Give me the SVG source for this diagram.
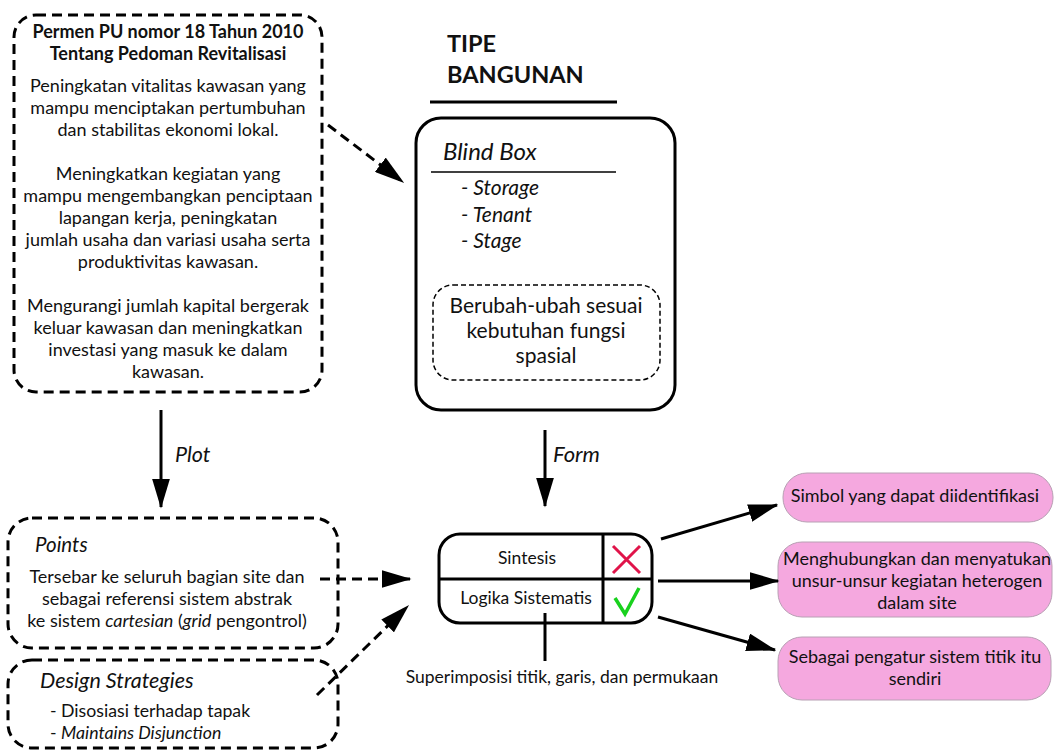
<svg xmlns="http://www.w3.org/2000/svg" width="1056" height="751" viewBox="0 0 1056 751">
<defs>
<style>
text{font-family:Lato,"Open Sans","Liberation Sans",sans-serif;fill:#111;}
.c{text-anchor:middle;}
.b{font-weight:bold;}
.i{font-style:italic;}
.body{font-size:18px;}
.dash{fill:none;stroke:#000;stroke-width:3;stroke-dasharray:10 6;}
.thin{fill:none;stroke:#000;stroke-width:1.5;stroke-dasharray:5 3;}
.solid{fill:none;stroke:#000;stroke-width:3;}
.conn{stroke:#000;stroke-width:3;fill:none;}
.pink{fill:#f5a8df;stroke:#b8a0b4;stroke-width:1;}
</style>
<marker id="ah" markerWidth="10" markerHeight="6" refX="9.5" refY="3" orient="auto" markerUnits="strokeWidth">
<path d="M0,0 L10,3 L0,6 Z" fill="#000"/>
</marker>
</defs>

<g id="regulation">
<rect class="dash" x="14" y="15" width="308" height="377" rx="22"/>
<text class="c b" x="168" y="38" font-size="18">Permen PU nomor 18 Tahun 2010</text>
<text class="c b" x="168" y="60" font-size="18">Tentang Pedoman Revitalisasi</text>
<text class="c body" x="168" y="92">Peningkatan vitalitas kawasan yang</text>
<text class="c body" x="168" y="114">mampu menciptakan pertumbuhan</text>
<text class="c body" x="168" y="136">dan stabilitas ekonomi lokal.</text>
<text class="c body" x="168" y="180">Meningkatkan kegiatan yang</text>
<text class="c body" x="168" y="202">mampu mengembangkan penciptaan</text>
<text class="c body" x="168" y="224">lapangan kerja, peningkatan</text>
<text class="c body" x="168" y="246">jumlah usaha dan variasi usaha serta</text>
<text class="c body" x="168" y="268">produktivitas kawasan.</text>
<text class="c body" x="168" y="312">Mengurangi jumlah kapital bergerak</text>
<text class="c body" x="168" y="334">keluar kawasan dan meningkatkan</text>
<text class="c body" x="168" y="356">investasi yang masuk ke dalam</text>
<text class="c body" x="168" y="378">kawasan.</text>
</g>

<g id="title">
<text class="b" x="447" y="52" font-size="23.5">TIPE</text>
<text class="b" x="447" y="83" font-size="23.5">BANGUNAN</text>
<line x1="430" y1="102" x2="617" y2="102" stroke="#000" stroke-width="3"/>
</g>

<g id="building-type">
<rect class="solid" x="416" y="118" width="259" height="292" rx="25"/>
<text class="i" x="443" y="160" font-size="24">Blind Box</text>
<line x1="431" y1="172" x2="616" y2="172" stroke="#000" stroke-width="1.5"/>
<text class="i" x="461" y="195" font-size="21">- Storage</text>
<text class="i" x="461" y="222" font-size="21">- Tenant</text>
<text class="i" x="461" y="248" font-size="21">- Stage</text>
<rect class="thin" x="433" y="285" width="227" height="95" rx="20"/>
<text class="c" x="546" y="313" font-size="21">Berubah-ubah sesuai</text>
<text class="c" x="546" y="338" font-size="21">kebutuhan fungsi</text>
<text class="c" x="546" y="363" font-size="21">spasial</text>
</g>

<g id="points">
<rect class="dash" x="8" y="518" width="330" height="130" rx="24"/>
<text class="i" x="35" y="552" font-size="20.5">Points</text>
<text class="c body" x="167" y="583">Tersebar ke seluruh bagian site dan</text>
<text class="c body" x="167" y="605">sebagai referensi sistem abstrak</text>
<text class="c body" x="167" y="627">ke sistem <tspan class="i">cartesian</tspan> (<tspan class="i">grid</tspan> pengontrol)</text>
</g>

<g id="design-strategies">
<rect class="dash" x="8" y="660" width="330" height="88" rx="24"/>
<text class="i" x="40" y="688" font-size="21.5">Design Strategies</text>
<text x="50" y="717" font-size="17.7">- Disosiasi terhadap tapak</text>
<text x="50" y="739" font-size="17.7">- <tspan class="i">Maintains Disjunction</tspan></text>
</g>

<g id="synthesis">
<rect class="solid" x="439" y="534" width="213" height="89" rx="21"/>
<line x1="439" y1="579" x2="652" y2="579" stroke="#000" stroke-width="3"/>
<line x1="603" y1="534" x2="603" y2="623" stroke="#000" stroke-width="3"/>
<text class="c" x="527" y="564" font-size="17.5">Sintesis</text>
<text class="c" x="526" y="604" font-size="17.5">Logika Sistematis</text>
<path d="M613,546 L640,573 M640,546 L613,573" stroke="#e0144a" stroke-width="3" fill="none"/>
<path d="M615,598 L625,614 L639,588" stroke="#19d11e" stroke-width="3.5" fill="none" stroke-linejoin="miter"/>
<text class="c" x="562" y="683" font-size="17.5">Superimposisi titik, garis, dan permukaan</text>
</g>

<g id="result-1">
<rect class="pink" x="783" y="473" width="270" height="49" rx="24"/>
<text class="c" x="915" y="502" font-size="18">Simbol yang dapat diidentifikasi</text>
</g>
<g id="result-2">
<rect class="pink" x="778" y="542" width="274" height="75" rx="24"/>
<text class="c" x="917" y="565" font-size="18">Menghubungkan dan menyatukan</text>
<text class="c" x="917" y="587" font-size="18">unsur-unsur kegiatan heterogen</text>
<text class="c" x="917" y="609" font-size="18">dalam site</text>
</g>
<g id="result-3">
<rect class="pink" x="778" y="637" width="273" height="63" rx="24"/>
<text class="c" x="915" y="663" font-size="18">Sebagai pengatur sistem titik itu</text>
<text class="c" x="915" y="685" font-size="18">sendiri</text>
</g>

<g id="connectors">
<line class="conn" x1="328" y1="125" x2="403" y2="182" stroke-dasharray="10 6" marker-end="url(#ah)"/>
<line class="conn" x1="161" y1="410" x2="161" y2="507" marker-end="url(#ah)"/>
<text class="i" x="175" y="462" font-size="21.5">Plot</text>
<line class="conn" x1="545" y1="430" x2="545" y2="506" marker-end="url(#ah)"/>
<text class="i" x="553" y="462" font-size="22">Form</text>
<line class="conn" x1="320" y1="579" x2="410" y2="579" stroke-dasharray="10 6" marker-end="url(#ah)"/>
<line class="conn" x1="317" y1="695" x2="408" y2="606" stroke-dasharray="10 6" marker-end="url(#ah)"/>
<line class="conn" x1="545" y1="613" x2="545" y2="661"/>
<line class="conn" x1="661" y1="539" x2="777" y2="505" marker-end="url(#ah)"/>
<line class="conn" x1="658" y1="581" x2="778" y2="581" marker-end="url(#ah)"/>
<line class="conn" x1="658" y1="617" x2="775" y2="650" marker-end="url(#ah)"/>
</g>
</svg>
